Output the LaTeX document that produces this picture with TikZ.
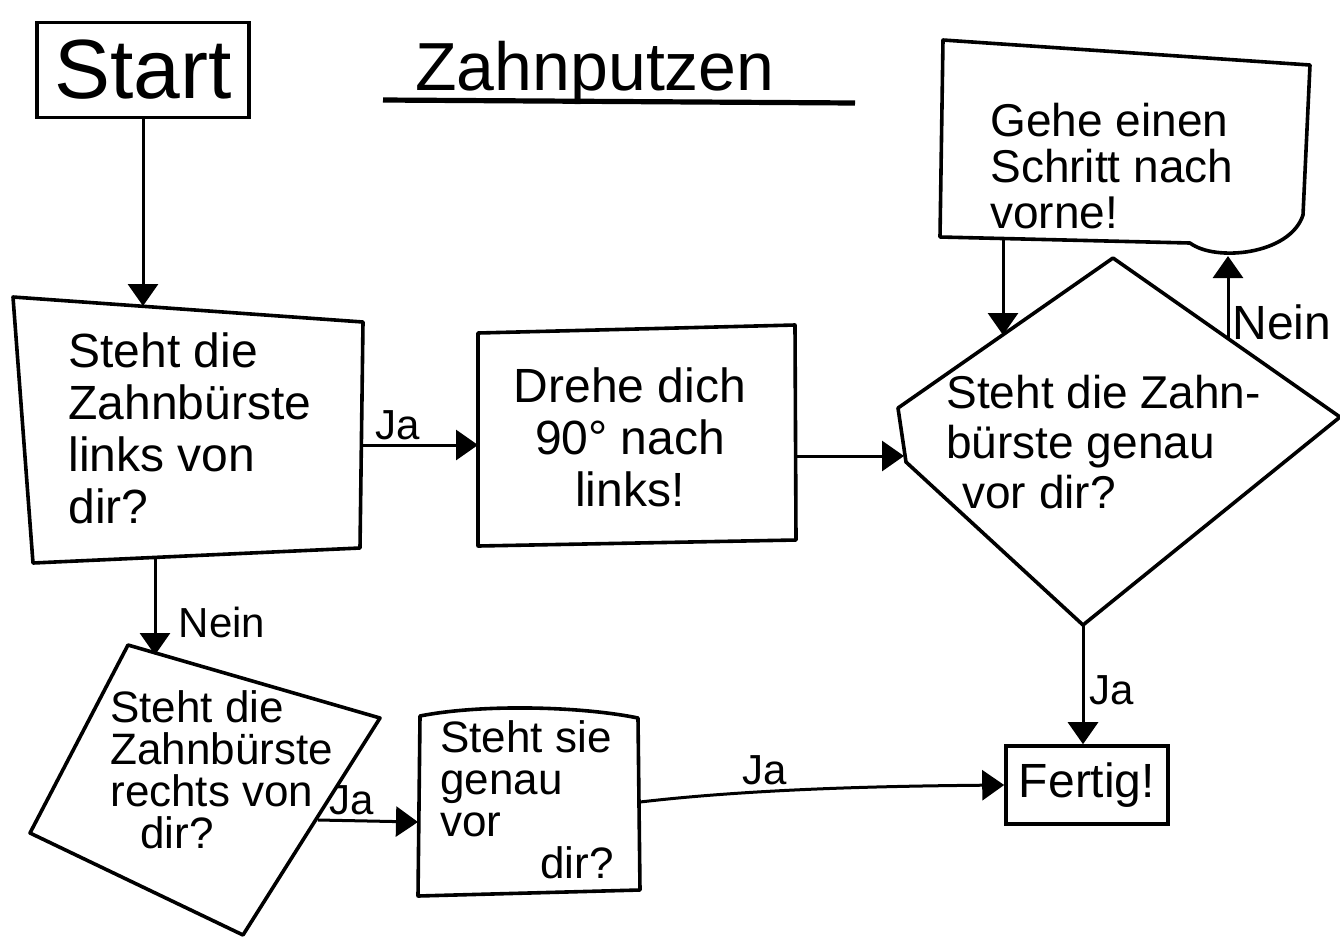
\documentclass[tikz,border=0pt]{standalone}
\usepackage{fontspec}
\setmainfont{Liberation Sans}
\usetikzlibrary{arrows.meta}
\tikzset{
  outline/.style={line width=1.8pt, line join=round},
  boxnode/.style={draw, line width=1.8pt, inner sep=0pt},
  conn/.style={line width=1.5pt, -{Triangle[length=11pt,width=15pt]}},
  txt/.style={font=\fontsize{24}{26}\selectfont, align=left, inner sep=0pt},
  lbl/.style={font=\fontsize{21}{24}\selectfont, inner sep=0pt},
}
\begin{document}
\begin{tikzpicture}[x=0.5pt,y=-0.5pt]
\useasboundingbox (0,0) rectangle (1340,939);

% title
\node[font=\fontsize{34}{38}\selectfont, anchor=base, inner sep=0pt] (title) at (595,90) {Zahnputzen};
\coordinate (ulA) at (383,100);
\coordinate (ulB) at (855,103);
\draw[line width=2.6pt] (ulA) -- (ulB);

% start
\node[boxnode, minimum width=106pt, minimum height=47.5pt, font=\fontsize{42}{46}\selectfont] (start) at (143,70) {Start};

% box 1
\draw[outline] (13,297) -- (363,322) -- (360,548) -- (33,563) -- cycle;
\node[txt, anchor=west] (q1) at (68,428) {Steht die\\Zahnbürste\\links von\\dir?};
\coordinate (b1top) at (143,306);
\coordinate (b1R) at (361,445);
\coordinate (b1B) at (155,556);

% box 2
\draw[outline] (478,333) -- (795,325) -- (796,540) -- (478,546) -- cycle;
\node[txt, align=center] (q2) at (630,437) {Drehe dich\\90° nach\\links!};
\coordinate (b2L) at (478,445);
\coordinate (b2R) at (795,456);

% diamond
\draw[outline] (1113,258) -- (1340,417) -- (1083,625) -- (906,462) -- (898,408) -- cycle;
\node[txt, anchor=west, font=\fontsize{23}{25}\selectfont] (q3) at (946,442) {Steht die Zahn-\\bürste genau\\\hspace*{8pt}vor dir?};
\coordinate (dL) at (904,456);
\coordinate (dUL) at (1003,335);
\coordinate (dUR) at (1228,338);
\coordinate (dB) at (1083,625);

% step box (document shape)
\draw[outline] (940,237) -- (1190,243) .. controls (1215,262) and (1290,255) .. (1303,215) -- (1310,65) -- (943,40) -- cycle;
\node[txt, anchor=west, font=\fontsize{23}{23}\selectfont] (q4) at (990,166) {Gehe einen\\Schritt nach\\vorne!};
\coordinate (gB) at (1003,239);
\coordinate (gBR) at (1228,256);

% tilted box
\draw[outline] (128,645) -- (380,718) -- (243,935) -- (30,833) -- cycle;
\node[txt, anchor=west, font=\fontsize{22}{21}\selectfont] (q5) at (110,770) {Steht die\\Zahnbürste\\rechts von\\\hspace*{15pt}dir?};
\coordinate (tTop) at (155,655);
\coordinate (tR) at (318,820);

% steht sie box
\draw[outline] (420,716) .. controls (480,704) and (580,706) .. (638,718) -- (640,890) -- (418,896) -- cycle;
\node[txt, anchor=west, font=\fontsize{22}{21}\selectfont] (q6) at (440,800) {Steht sie\\genau\\vor\\\hspace*{50pt}dir?};
\coordinate (sL) at (418,822);
\coordinate (sR) at (640,802);

% fertig
\node[boxnode, minimum width=81pt, minimum height=39pt, font=\fontsize{24}{26}\selectfont] (fertig) at (1087,785) {Fertig!};

% connectors
\draw[conn] (start.south) -- (b1top);
\draw[conn] (b1R) -- (b2L);
\draw[conn] (b2R) -- (dL);
\draw[conn] (gB) -- (dUL);
\draw[conn] (dUR) -- (gBR);
\draw[conn] (dB) -- (fertig.north -| dB);
\draw[conn] (b1B) -- (tTop);
\draw[conn] (tR) -- (sL);
\draw[conn] (sR) .. controls (760,788) and (900,786) .. (fertig.west);

% labels
\node[lbl] (l1) at (398,425) {Ja};
\node[lbl] (l2) at (222,622) {Nein};
\node[lbl] (l3) at (352,800) {Ja};
\node[lbl] (l4) at (765,770) {Ja};
\node[lbl] (l5) at (1112,690) {Ja};
\node[lbl, font=\fontsize{24}{26}\selectfont] (l6) at (1282,322) {Nein};
\end{tikzpicture}
\end{document}
